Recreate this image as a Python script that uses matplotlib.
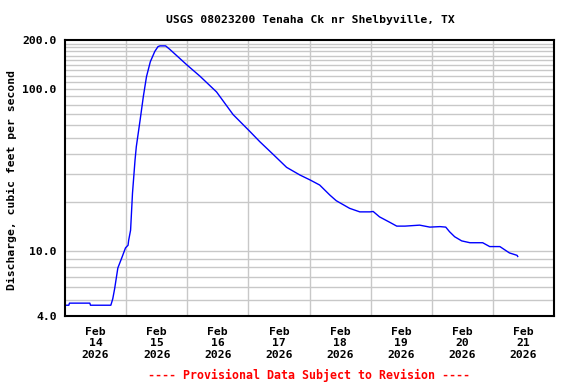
import pandas as pd
import numpy as np
import matplotlib
matplotlib.use("Agg")
import matplotlib.pyplot as plt
from matplotlib.ticker import FixedLocator, NullFormatter

# discharge readings (cfs)
times = ["2026-02-14 00:15", "2026-02-14 01:30", "2026-02-14 01:45", "2026-02-14 09:45",
         "2026-02-14 10:00", "2026-02-14 18:00", "2026-02-14 18:45", "2026-02-14 19:30",
         "2026-02-14 20:45", "2026-02-14 22:30", "2026-02-14 23:45", "2026-02-15 00:45",
         "2026-02-15 01:00", "2026-02-15 01:45", "2026-02-15 02:30", "2026-02-15 03:30",
         "2026-02-15 04:00", "2026-02-15 05:30", "2026-02-15 06:45", "2026-02-15 08:00",
         "2026-02-15 09:30", "2026-02-15 11:15", "2026-02-15 12:30", "2026-02-15 13:15",
         "2026-02-15 15:30", "2026-02-15 17:15", "2026-02-15 23:45", "2026-02-16 05:00",
         "2026-02-16 11:30", "2026-02-16 18:00", "2026-02-16 20:45", "2026-02-17 00:30",
         "2026-02-17 04:30", "2026-02-17 09:45", "2026-02-17 15:00", "2026-02-17 20:15",
         "2026-02-18 00:15", "2026-02-18 04:00", "2026-02-18 08:00", "2026-02-18 10:30",
         "2026-02-18 15:45", "2026-02-18 19:45", "2026-02-18 23:45", "2026-02-19 01:00",
         "2026-02-19 03:30", "2026-02-19 07:30", "2026-02-19 10:15", "2026-02-19 13:30",
         "2026-02-19 19:15", "2026-02-19 23:15", "2026-02-20 03:15", "2026-02-20 05:30",
         "2026-02-20 07:00", "2026-02-20 09:00", "2026-02-20 11:45", "2026-02-20 15:00",
         "2026-02-20 20:00", "2026-02-20 22:45", "2026-02-21 02:45", "2026-02-21 04:45",
         "2026-02-21 06:30", "2026-02-21 09:30", "2026-02-21 09:45"]
flow = [4.66, 4.66, 4.8, 4.8,
        4.66, 4.66, 5.1, 5.9,
        7.9, 9.3, 10.5, 10.9,
        11.7, 13.5, 22.8, 36.5,
        44.1, 64.4, 89.6, 119,
        147, 170, 182, 184,
        184, 174.6, 141, 119.7,
        95.8, 69.5, 62.9, 54.9,
        47.3, 39.5, 32.9, 29.5,
        27.5, 25.6, 22.2, 20.5,
        18.4, 17.5, 17.5, 17.6,
        16.3, 15.1, 14.3, 14.3,
        14.5, 14.1, 14.2, 14.1,
        13.2, 12.3, 11.6, 11.3,
        11.3, 10.7, 10.7, 10.2,
        9.78, 9.45, 9.3]

day_labels = ["Feb\n14\n2026", "Feb\n15\n2026", "Feb\n16\n2026", "Feb\n17\n2026",
              "Feb\n18\n2026", "Feb\n19\n2026", "Feb\n20\n2026", "Feb\n21\n2026"]
y_ticks = [4, 10, 100, 200]

t = pd.to_datetime(times)
start = pd.Timestamp("2026-02-14")
end = pd.Timestamp("2026-02-22")

mono = "DejaVu Sans Mono"
fig = plt.figure(figsize=(5.76, 3.84), dpi=100)
ax = fig.add_axes([65/576, 68/384, 489/576, 276/384])

ax.plot(t, flow, color="blue", lw=1.0)

ax.set_yscale("log")
ax.set_ylim(4, 200)
ax.set_xlim(start, end)

# grid at every minor decade step, midnight vertical lines
grid_vals = list(range(5, 10)) + list(range(10, 100, 10)) + list(range(100, 200, 10))
for v in grid_vals:
    ax.axhline(v, color="#c8c8c8", lw=1.0, zorder=0)
for d in pd.date_range(start + pd.Timedelta(days=1), end - pd.Timedelta(days=1)):
    ax.axvline(d, color="#c8c8c8", lw=1.0, zorder=0)

ax.yaxis.set_major_locator(FixedLocator(y_ticks))
ax.yaxis.set_minor_locator(FixedLocator([]))
ax.yaxis.set_minor_formatter(NullFormatter())
ax.set_yticklabels(["%.1f" % v for v in y_ticks], fontfamily=mono,
                   fontweight="bold", fontsize=8.2)

noons = pd.date_range(start + pd.Timedelta(hours=12), periods=8, freq="D")
ax.set_xticks(noons)
ax.set_xticklabels(day_labels, fontfamily=mono, fontweight="bold",
                   fontsize=8.2, linespacing=1.15)
ax.tick_params(length=0, pad=6)
ax.tick_params(axis="x", pad=8)

for s in ax.spines.values():
    s.set_linewidth(1.5)

fig.text(12/576, 1 - 180/384, "Discharge, cubic feet per second", rotation=90,
         ha="center", va="center", fontfamily=mono, fontweight="bold", fontsize=8.2)
fig.text(310/576, 1 - 20/384, "USGS 08023200 Tenaha Ck nr Shelbyville, TX",
         ha="center", va="center", fontfamily=mono, fontweight="bold", fontsize=8.2)
fig.text(309/576, 1 - 375/384, "---- Provisional Data Subject to Revision ----",
         ha="center", va="center", fontfamily=mono, fontweight="bold",
         fontsize=8.4, color="red")

plt.savefig("out.png", dpi=100)
